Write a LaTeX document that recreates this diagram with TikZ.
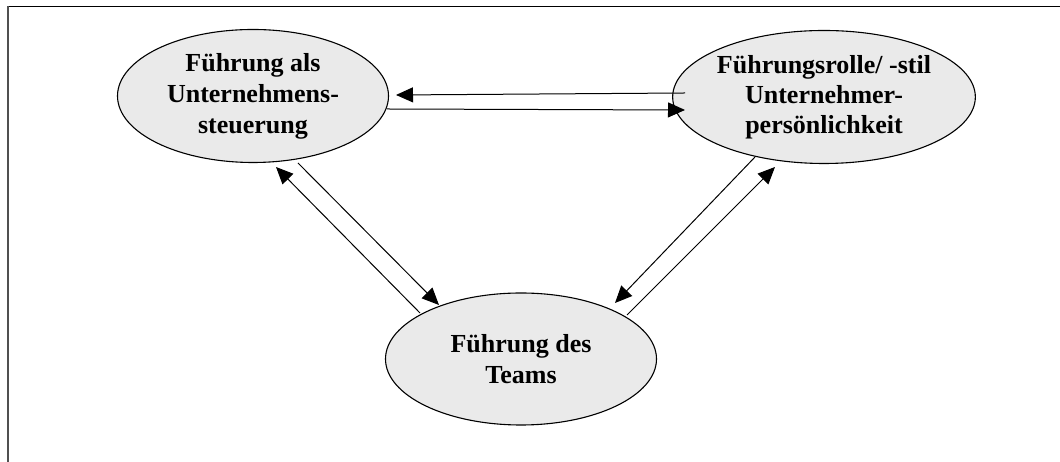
\documentclass[tikz,border=0pt]{standalone}
\usepackage{fontspec}
\setmainfont{Liberation Serif}
\usepackage{tikz}
\usetikzlibrary{calc,shapes.geometric,arrows.meta}
\definecolor{rolefill}{HTML}{EAEAEA}
\definecolor{framegray}{HTML}{505050}

\begin{document}
\begin{tikzpicture}[x=1pt,y=1pt,
	role/.style={ellipse,draw,line width=1.1pt,fill=rolefill,minimum width=271pt,minimum height=133pt,inner sep=0pt,align=center,font=\bfseries\fontsize{26}{31}\selectfont},
	link/.style={line width=1pt,-{Triangle[length=17pt,width=15pt]}}]
	\useasboundingbox (0,0) rectangle (1060,462);
	%FRAME
	\draw[line width=1.5pt] (7,455.5)--(1060,455.5);
	\draw[framegray,line width=2pt] (8,456.2)--(8,0);
	
	%ROLES
	\node[role] (steuerung) at (253,366) {F\"uhrung als\\Unternehmens-\\steuerung};
	\node[role] (person) at (824,365) {\raisebox{-8pt}{\begin{tabular}{@{}c@{}}F\"uhrungsrolle/ -stil\\[-1pt]Unternehmer-\\[-1pt]pers\"onlichkeit\end{tabular}}};
	\node[role,minimum height=132pt] (team) at (521,103) {F\"uhrung des\\Teams};
	
	%LINKS
	\draw[link] ($(person)+(-139,4)$)--($(steuerung)+(143,1)$);
	\draw[link] ($(steuerung)+(134,-13)$)--($(person)+(-139,-13)$);
	%
	\draw[link] ($(team)+(-101,46)$)--($(steuerung)+(23,-71)$);
	\draw[link] ($(steuerung)+(45,-67)$)--($(team)+(-82,54)$);
	\draw[link] ($(person)+(-69,-60)$)--($(team)+(94,56)$);
	\draw[link] ($(team)+(106,44)$)--($(person)+(-49,-70)$);
\end{tikzpicture}
\end{document}
